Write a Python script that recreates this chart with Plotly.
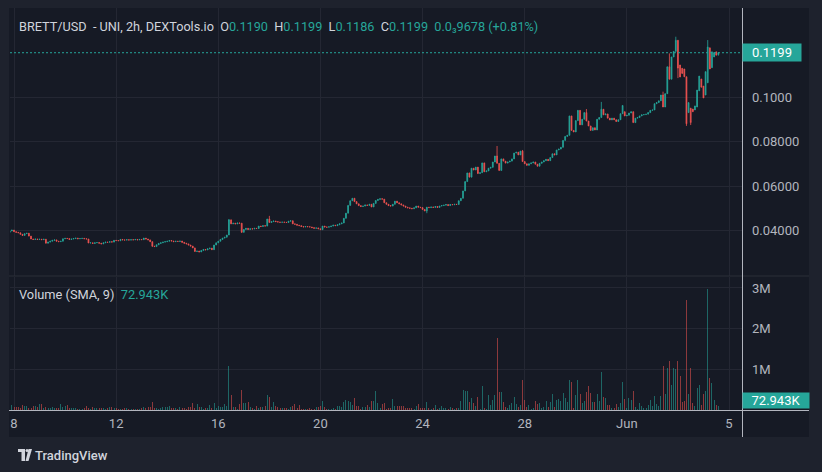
import pandas as pd
import plotly.graph_objects as go

# ---------------- data ----------------
START_TIME = "2024-05-07 20:00"   # first 2h candle

CLOSE = [
    0.0398, 0.0402, 0.0395, 0.0392, 0.0390, 0.0383, 0.0378, 0.0386, 0.0388, 0.0375,
    0.0362, 0.0360, 0.0362, 0.0360, 0.0361, 0.0359, 0.0361, 0.0343, 0.0348, 0.0352,
    0.0356, 0.0358, 0.0352, 0.0350, 0.0352, 0.0363, 0.0365, 0.0364, 0.0360, 0.0362,
    0.0364, 0.0366, 0.0363, 0.0364, 0.0365, 0.0363, 0.0362, 0.0344, 0.0345, 0.0342,
    0.0345, 0.0346, 0.0343, 0.0340, 0.0345, 0.0348, 0.0347, 0.0350, 0.0348, 0.0356,
    0.0355, 0.0354, 0.0360, 0.0358, 0.0357, 0.0359, 0.0357, 0.0359, 0.0358, 0.0360,
    0.0358, 0.0360, 0.0359, 0.0366, 0.0362, 0.0358, 0.0350, 0.0330, 0.0328, 0.0336,
    0.0342, 0.0345, 0.0348, 0.0350, 0.0352, 0.0355, 0.0353, 0.0350, 0.0352, 0.0351,
    0.0353, 0.0347, 0.0343, 0.0340, 0.0335, 0.0330, 0.0322, 0.0306, 0.0308, 0.0304,
    0.0310, 0.0315, 0.0313, 0.0318, 0.0321, 0.0314, 0.0335, 0.0345, 0.0352, 0.0360,
    0.0366, 0.0370, 0.0380, 0.0448, 0.0430, 0.0433, 0.0430, 0.0434, 0.0433, 0.0392,
    0.0405, 0.0410, 0.0405, 0.0408, 0.0407, 0.0410, 0.0409, 0.0420, 0.0418, 0.0422,
    0.0420, 0.0452, 0.0436, 0.0440, 0.0443, 0.0440, 0.0438, 0.0437, 0.0438, 0.0437,
    0.0436, 0.0442, 0.0444, 0.0430, 0.0428, 0.0424, 0.0422, 0.0418, 0.0416, 0.0418,
    0.0417, 0.0416, 0.0413, 0.0410, 0.0412, 0.0408, 0.0404, 0.0420, 0.0416, 0.0415,
    0.0417, 0.0420, 0.0424, 0.0422, 0.0426, 0.0430, 0.0434, 0.0455, 0.0478, 0.0513,
    0.0534, 0.0545, 0.0530, 0.0520, 0.0512, 0.0508, 0.0510, 0.0515, 0.0513, 0.0518,
    0.0506, 0.0522, 0.0535, 0.0540, 0.0543, 0.0541, 0.0525, 0.0518, 0.0512, 0.0510,
    0.0518, 0.0532, 0.0525, 0.0520, 0.0515, 0.0510, 0.0505, 0.0502, 0.0500, 0.0498,
    0.0502, 0.0510, 0.0505, 0.0503, 0.0495, 0.0488, 0.0505, 0.0503, 0.0506, 0.0504,
    0.0508, 0.0504, 0.0510, 0.0512, 0.0514, 0.0517, 0.0512, 0.0517, 0.0516, 0.0518,
    0.0517, 0.0534, 0.0545, 0.0578, 0.0620, 0.0659, 0.0640, 0.0680, 0.0672, 0.0685,
    0.0656, 0.0660, 0.0704, 0.0664, 0.0668, 0.0680, 0.0684, 0.0708, 0.0735, 0.0702,
    0.0670, 0.0722, 0.0712, 0.0703, 0.0708, 0.0712, 0.0722, 0.0748, 0.0752, 0.0740,
    0.0757, 0.0710, 0.0700, 0.0693, 0.0700, 0.0704, 0.0708, 0.0698, 0.0689, 0.0702,
    0.0708, 0.0714, 0.0720, 0.0714, 0.0728, 0.0745, 0.0740, 0.0762, 0.0766, 0.0774,
    0.0805, 0.0823, 0.0828, 0.0915, 0.0850, 0.0843, 0.0894, 0.0940, 0.0875, 0.0900,
    0.0930, 0.0892, 0.0870, 0.0850, 0.0862, 0.0852, 0.0900, 0.0908, 0.0945, 0.0920,
    0.0924, 0.0905, 0.0897, 0.0905, 0.0898, 0.0890, 0.0898, 0.0925, 0.0962, 0.0915,
    0.0918, 0.0928, 0.0934, 0.0885, 0.0905, 0.0908, 0.0915, 0.0920, 0.0921, 0.0923,
    0.0930, 0.0940, 0.0942, 0.0970, 0.0975, 0.0983, 0.1009, 0.0955, 0.1015, 0.1136,
    0.1080, 0.1180, 0.1205, 0.1255, 0.1130, 0.1090, 0.1106, 0.1091, 0.0880, 0.0975,
    0.0885, 0.0934, 0.0960, 0.1031, 0.1094, 0.1044, 0.0996, 0.1114, 0.1225, 0.1126,
    0.1203, 0.1200, 0.1188, 0.1199,
]

# candles whose open is not the previous close (gaps seen on the chart)
OPEN_GAPS = {0: 0.0392, 289: 0.0934, 315: 0.1144, 316: 0.1129, 317: 0.1126,
             319: 0.0930, 320: 0.0950, 321: 0.0946, 322: 0.0942, 323: 0.0955,
             324: 0.1028, 325: 0.1081, 326: 0.1049, 327: 0.1009, 328: 0.1064,
             329: 0.1221, 330: 0.1132, 331: 0.1180, 332: 0.1203, 333: 0.1190}
HIGH_WICKS = {103: 0.0452, 122: 0.0466, 229: 0.0780, 241: 0.0762, 271: 0.0946,
              278: 0.0978, 307: 0.1024, 310: 0.1196, 313: 0.1271, 328: 0.1256}
LOW_WICKS = {67: 0.0326, 109: 0.0390, 196: 0.0478, 314: 0.1085, 318: 0.0870,
             320: 0.0874, 333: 0.1186}

VOLUME_K = [
    99, 123, 82, 82, 82, 49, 123, 107, 107, 58,
    58, 99, 107, 82, 156, 140, 58, 82, 58, 58,
    82, 58, 41, 58, 156, 74, 107, 132, 41, 49,
    49, 49, 33, 33, 33, 49, 107, 41, 33, 82,
    49, 49, 49, 49, 49, 25, 49, 66, 82, 41,
    49, 33, 33, 33, 49, 49, 33, 33, 33, 16,
    33, 33, 49, 82, 49, 82, 82, 206, 49, 41,
    33, 49, 82, 66, 66, 99, 41, 49, 49, 33,
    82, 49, 49, 33, 66, 66, 181,
    41, 156, 82, 66, 33, 49, 49, 132, 49, 181,
    49, 107, 82, 66, 156, 99, 1070, 379, 82, 82,
    33, 156, 502, 181, 181, 206, 82, 49, 33, 99,
    49, 82, 82, 99, 379, 329, 82, 206, 99, 82,
    49, 49, 49, 49, 33, 66, 99, 156, 49, 132,
    33, 33, 16, 33, 49, 33, 33, 82, 82, 99,
    230, 66, 33, 33, 33, 49, 33, 99, 99, 82,
    206, 255, 230, 206, 132, 305, 99, 99, 33, 66,
    66, 132, 82, 230, 230, 477, 181, 49, 156, 181,
    33, 49, 49, 280, 107, 107, 107, 107, 107, 49,
    49, 49, 49, 33, 99, 156, 49, 49, 49, 206,
    49, 33, 49, 132, 33, 49, 99, 49, 49, 33,
    82, 49, 33, 49, 49, 230, 502, 477, 477, 206,
    305, 181, 107, 329, 33, 601, 49, 33, 379, 132,
    255, 379, 1770, 453, 453, 206, 82, 49, 132, 181,
    329, 156, 82, 132, 749, 255, 82, 132, 33, 49,
    230, 156, 181, 49, 82, 230, 82, 206, 403, 82,
    255, 280, 230, 412, 296, 198, 741, 700, 49, 379,
    741, 395, 181, 222, 453, 593, 420, 198, 198, 395,
    222, 938, 321, 296, 123, 123, 49, 49, 148, 74,
    173, 691, 272, 49, 296, 247, 469, 74, 25, 173,
    99, 49, 49, 123, 247, 99, 346, 148, 99, 346,
    1086, 395, 1037, 1210, 617, 1037, 1012, 1210, 840, 198,
    222, 2716, 395, 1037, 173, 99, 543, 617, 123, 395,
    469, 2963, 790, 667, 247, 123, 99,
]

X_TICK_DATES = ["2024-05-08", "2024-05-12", "2024-05-16", "2024-05-20",
                "2024-05-24", "2024-05-28", "2024-06-01", "2024-06-05"]
X_TICK_LABELS = ["8", "12", "16", "20", "24", "28", "Jun", "5"]
PRICE_TICKS = [0.04, 0.06, 0.08, 0.10]
PRICE_TICK_LABELS = ["0.04000", "0.06000", "0.08000", "0.1000"]
VOL_TICKS = [1e6, 2e6, 3e6]
VOL_TICK_LABELS = ["1M", "2M", "3M"]
LAST_PRICE = 0.1199
LAST_PRICE_LABEL = "0.1199"
VOLUME_SMA_LABEL = "72.943K"
HEADER_OHLC = [("O", "0.1190"), ("H", "0.1199"), ("L", "0.1186"), ("C", "0.1199")]
HEADER_CHANGE = "0.0\u20839678 (+0.81%)"

# ---------------- build OHLC ----------------
n = len(CLOSE)
times = pd.date_range(START_TIME, periods=n, freq="2h")
opens = [OPEN_GAPS.get(i, CLOSE[i - 1] if i > 0 else CLOSE[0]) for i in range(n)]
highs = [HIGH_WICKS.get(i, max(opens[i], CLOSE[i])) for i in range(n)]
lows = [LOW_WICKS.get(i, min(opens[i], CLOSE[i])) for i in range(n)]
vols = [v * 1000 for v in VOLUME_K]

UP = "#26a69a"
DOWN = "#ef5350"
CHART_BG = "#161a25"
FRAME_BG = "#1e222d"
GRID = "#242733"
TXT = "#b2b5be"
FONT = "Roboto"

vol_colors = ["rgba(38,166,154,0.55)" if CLOSE[i] >= opens[i] else "rgba(239,83,80,0.55)"
              for i in range(n)]

# ---------------- pixel helpers (layout only) ----------------
W, H = 822, 472
L, R, T, B = 10, 742, 8, 410          # plot area in pixels


def pxx(x):
    return (x - L) / (R - L)


def pxy(y):
    return (B - y) / (B - T)


day0 = pd.Timestamp("2024-05-08")
px_per_day = 25.536
x_left = day0 + pd.Timedelta(days=(L - 14) / px_per_day)
x_right = day0 + pd.Timedelta(days=(R - 14) / px_per_day)

fig = go.Figure()
fig.add_trace(go.Candlestick(
    x=times, open=opens, high=highs, low=lows, close=CLOSE,
    xaxis="x", yaxis="y",
    increasing=dict(line=dict(color=UP, width=0.8), fillcolor=UP),
    decreasing=dict(line=dict(color=DOWN, width=0.8), fillcolor=DOWN),
    whiskerwidth=0, hoverinfo="skip", showlegend=False,
))
fig.add_trace(go.Bar(
    x=times, y=vols, xaxis="x2", yaxis="y2",
    marker=dict(color=vol_colors, line=dict(width=0)),
    width=3.4e6, hoverinfo="skip", showlegend=False,
))

axis_font = dict(family=FONT, size=13, color=TXT)
fig.update_layout(
    width=W, height=H,
    margin=dict(l=L, r=W - R, t=T, b=H - B, pad=0),
    paper_bgcolor=FRAME_BG, plot_bgcolor=CHART_BG,
    bargap=0, boxgap=0.45,
    xaxis=dict(domain=[0, 1], anchor="y", type="date", range=[x_left, x_right],
               tickvals=X_TICK_DATES, showticklabels=False, showgrid=True,
               gridcolor=GRID, gridwidth=1, zeroline=False, showline=False,
               rangeslider=dict(visible=False), fixedrange=True),
    xaxis2=dict(domain=[0, 1], anchor="y2", type="date", matches="x",
                range=[x_left, x_right], tickvals=X_TICK_DATES, ticktext=X_TICK_LABELS,
                showticklabels=True, tickfont=axis_font, ticks="", ticklabelstandoff=4,
                showgrid=True, gridcolor=GRID, gridwidth=1, zeroline=False,
                showline=False, rangeslider=dict(visible=False)),
    yaxis=dict(domain=[pxy(275.5), 1], anchor="x", side="right", range=[0.0198, 0.14],
               tickvals=PRICE_TICKS, ticktext=PRICE_TICK_LABELS, tickfont=axis_font,
               ticks="", ticklabelstandoff=9, showgrid=True, gridcolor=GRID,
               zeroline=False, showline=False),
    yaxis2=dict(domain=[0, pxy(277)], anchor="x2", side="right", range=[0, 3.27e6],
                tickvals=VOL_TICKS, ticktext=VOL_TICK_LABELS, tickfont=axis_font,
                ticks="", ticklabelstandoff=9, showgrid=True, gridcolor=GRID,
                zeroline=False, showline=False),
)

shapes = [
    # chart panel
    dict(type="rect", xref="paper", yref="paper", x0=pxx(9), x1=pxx(809),
         y0=pxy(437), y1=pxy(8), fillcolor=CHART_BG, line=dict(width=0), layer="below"),
    # pane separator
    dict(type="line", xref="paper", yref="paper", x0=pxx(9), x1=pxx(809),
         y0=pxy(276), y1=pxy(276), line=dict(color="#2a2e39", width=1)),
    # price-scale border
    dict(type="line", xref="paper", yref="paper", x0=pxx(742.5), x1=pxx(742.5),
         y0=pxy(437), y1=pxy(8), line=dict(color="#b2b5be", width=1)),
    # time-scale border
    dict(type="line", xref="paper", yref="paper", x0=pxx(9), x1=pxx(809),
         y0=pxy(410.5), y1=pxy(410.5), line=dict(color="#b2b5be", width=1)),
    # last-price dotted line
    dict(type="line", xref="paper", yref="y", x0=0, x1=1, y0=LAST_PRICE, y1=LAST_PRICE,
         line=dict(color=UP, width=1, dash="2px,2px")),
    # TradingView logo
    dict(type="rect", xref="paper", yref="paper", x0=pxx(18), x1=pxx(25),
         y0=pxy(452), y1=pxy(449), fillcolor="#d1d4dc", line=dict(width=0)),
    dict(type="rect", xref="paper", yref="paper", x0=pxx(21.5), x1=pxx(25),
         y0=pxy(461), y1=pxy(449), fillcolor="#d1d4dc", line=dict(width=0)),
    dict(type="circle", xref="paper", yref="paper", x0=pxx(25.5), x1=pxx(28.5),
         y0=pxy(452), y1=pxy(449), fillcolor="#d1d4dc", line=dict(width=0)),
    dict(type="path", xref="paper", yref="paper",
         path=(f"M {pxx(28.5)},{pxy(449)} L {pxx(32)},{pxy(449)} "
               f"L {pxx(28.5)},{pxy(461)} L {pxx(25.5)},{pxy(461)} Z"),
         fillcolor="#d1d4dc", line=dict(width=0)),
]
fig.update_layout(shapes=shapes)

NB = "\u00a0"
hdr = f"<span style='color:#d1d4dc'>BRETT/USD{NB}{NB}- UNI, 2h, DEXTools.io</span>{NB}{NB}"
for k, v in HEADER_OHLC:
    hdr += f"<span style='color:#d1d4dc'>{k}</span><span style='color:{UP}'>{v}</span>{NB}{NB}"
hdr += f"<span style='color:{UP}'>{HEADER_CHANGE}</span>"

annotations = [
    dict(xref="paper", yref="paper", x=pxx(17), y=pxy(27), xanchor="left", yanchor="middle",
         text=hdr, showarrow=False, font=dict(family=FONT, size=12.7, color="#d1d4dc")),
    dict(xref="paper", yref="paper", x=pxx(17), y=pxy(294), xanchor="left", yanchor="middle",
         text=(f"<span style='color:#d1d4dc'>Volume (SMA, 9)</span>{NB}{NB}"
               f"<span style='color:{UP}'>{VOLUME_SMA_LABEL}</span>"),
         showarrow=False, font=dict(family=FONT, size=12.8, color="#d1d4dc")),
    dict(xref="paper", yref="y", x=1, y=LAST_PRICE, xanchor="left", yanchor="middle",
         text=LAST_PRICE_LABEL, showarrow=False, bgcolor=UP, width=54, height=13,
         borderpad=2, font=dict(family=FONT, size=13, color="#ffffff")),
    dict(xref="paper", yref="paper", x=1, y=pxy(400.5), xanchor="left", yanchor="middle",
         text=VOLUME_SMA_LABEL, showarrow=False, bgcolor=UP, width=62, height=11,
         borderpad=2, font=dict(family=FONT, size=13, color="#ffffff")),
    dict(xref="paper", yref="paper", x=pxx(33), y=pxy(455), xanchor="left", yanchor="middle",
         text="TradingView", showarrow=False,
         font=dict(family=FONT, size=13, color="#d1d4dc", weight=500)),
]
fig.update_layout(annotations=annotations)

fig.write_html("out.html")
